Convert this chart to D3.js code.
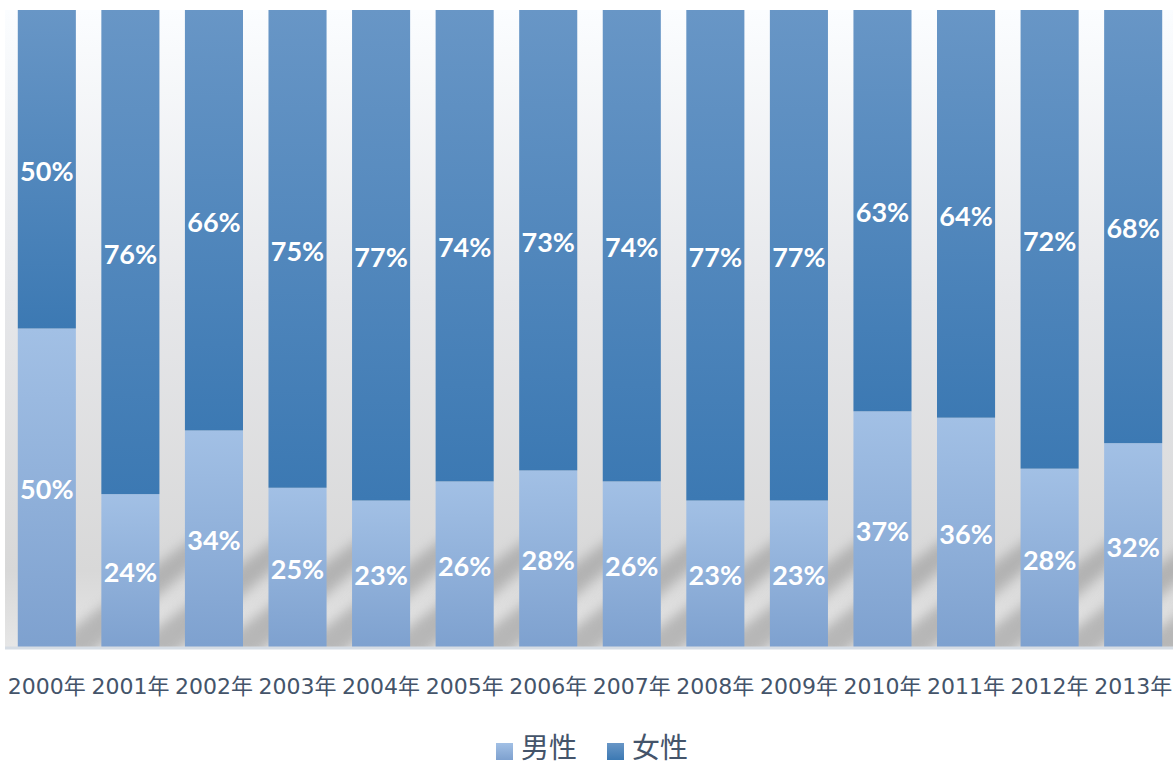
<!DOCTYPE html>
<html>
<head>
<meta charset="utf-8">
<script src="https://cdn.jsdelivr.net/npm/d3@7"></script>
<style>
  body { margin: 0; background: #fff; }
  svg { display: block; }
</style>
</head>
<body>
<svg width="1173" height="766"></svg>
<script>
var width = 1173;
var height = 766;
var margin = { top: 10, bottom: 119, left: 5, right: 0 };

// data
var years = ['2000年', '2001年', '2002年', '2003年', '2004年', '2005年', '2006年',
  '2007年', '2008年', '2009年', '2010年', '2011年', '2012年', '2013年'];
var male = [50, 24, 34, 25, 23, 26, 28, 26, 23, 23, 37, 36, 28, 32];
var female = [50, 76, 66, 75, 77, 74, 73, 74, 77, 77, 63, 64, 72, 68];
var seriesNames = ['男性', '女性'];

var data = years.map((y, i) => ({ year: y, '男性': male[i], '女性': female[i] }));

var svg = d3.select('svg');
var defs = svg.append('defs');

// gradients ---------------------------------------------------------------
function grad(id, stops) {
  var g = defs.append('linearGradient').attr('id', id)
    .attr('x1', 0).attr('y1', 0).attr('x2', 0).attr('y2', 1);
  stops.forEach(s => g.append('stop').attr('offset', s[0]).attr('stop-color', s[1]));
}
grad('bg', [[0, '#fbfdff'], [0.45, '#e6e7ea'], [0.88, '#d8d8d8'], [1, '#e6e6e6']]);
grad('gMale', [[0, '#a2c0e5'], [1, '#7ea1cf']]);
grad('gFemale', [[0, '#6896c6'], [1, '#3c79b3']]);

defs.append('filter').attr('id', 'blur').attr('x', '-50%').attr('y', '-50%')
  .attr('width', '200%').attr('height', '200%')
  .append('feGaussianBlur').attr('stdDeviation', 6);

var plotBottom = height - margin.bottom;
defs.append('clipPath').attr('id', 'plotClip').append('rect')
  .attr('x', margin.left).attr('y', margin.top)
  .attr('width', width - margin.left - margin.right)
  .attr('height', plotBottom - margin.top);

// scales ------------------------------------------------------------------
var xScale = d3.scaleBand().domain(years)
  .range([margin.left, width - margin.right + 2])
  .paddingInner(0.305).paddingOuter(0.153);
var yScale = d3.scaleLinear().domain([0, 1]).range([plotBottom, margin.top]);

var stack = d3.stack().keys(seriesNames).offset(d3.stackOffsetExpand);
var layers = stack(data);

// plot background
svg.append('rect')
  .attr('x', margin.left).attr('y', margin.top)
  .attr('width', width - margin.left - margin.right)
  .attr('height', plotBottom - margin.top)
  .attr('fill', 'url(#bg)');

// shadows behind bars
var bw = xScale.bandwidth();
svg.append('g').attr('clip-path', 'url(#plotClip)')
  .selectAll('path').data(years).enter().append('path')
  .attr('d', d => {
    var x = xScale(d);
    return 'M' + [x + bw * 0.3, plotBottom + 10] +
      'L' + [x + bw + 12, plotBottom + 10] +
      'L' + [x + bw + 150, plotBottom - 110] +
      'L' + [x + bw + 118, plotBottom - 110] + 'Z';
  })
  .attr('fill', '#999')
  .attr('opacity', 0.6)
  .attr('filter', 'url(#blur)');

// bars
var fills = { '男性': 'url(#gMale)', '女性': 'url(#gFemale)' };
var groups = svg.selectAll('g.layer').data(layers).enter().append('g')
  .attr('class', 'layer').attr('fill', d => fills[d.key]);

groups.selectAll('rect').data(d => d).enter().append('rect')
  .attr('x', d => xScale(d.data.year))
  .attr('y', d => yScale(d[1]))
  .attr('width', bw)
  .attr('height', d => yScale(d[0]) - yScale(d[1]));

// data labels
groups.each(function (layer) {
  d3.select(this).selectAll('text').data(layer).enter().append('text')
    .attr('x', d => xScale(d.data.year) + bw / 2)
    .attr('y', d => (yScale(d[0]) + yScale(d[1])) / 2 + 2)
    .attr('dy', '0.36em')
    .attr('text-anchor', 'middle')
    .attr('fill', '#fff')
    .attr('font-family', 'Lato, "Open Sans", sans-serif')
    .attr('font-weight', 'bold')
    .attr('font-size', 27)
    .text(d => d.data[layer.key] + '%');
});

// axis
var xAxis = d3.axisBottom(xScale).tickSize(0).tickPadding(31);
var ax = svg.append('g').attr('transform', 'translate(0,' + plotBottom + ')').call(xAxis);
ax.select('.domain').attr('stroke', '#d5dce4').attr('stroke-width', 3)
  .attr('d', 'M' + margin.left + ',1H' + width);
ax.selectAll('text')
  .attr('fill', '#44546a')
  .attr('font-size', 22)
  .attr('font-family', '"DejaVu Sans", "Noto Sans CJK SC", sans-serif');

// legend
var legendItems = [
  { name: '男性', x: 496, fill: 'url(#gMale)' },
  { name: '女性', x: 607, fill: 'url(#gFemale)' }
];
var lg = svg.append('g').selectAll('g').data(legendItems).enter().append('g')
  .attr('transform', d => 'translate(' + d.x + ',743)');
lg.append('rect').attr('width', 17).attr('height', 17).attr('fill', d => d.fill);
lg.append('text').attr('x', 25).attr('y', 15)
  .attr('fill', '#44546a')
  .attr('font-size', 28)
  .attr('font-family', '"Noto Sans CJK SC", sans-serif')
  .text(d => d.name);
</script>
</body>
</html>
